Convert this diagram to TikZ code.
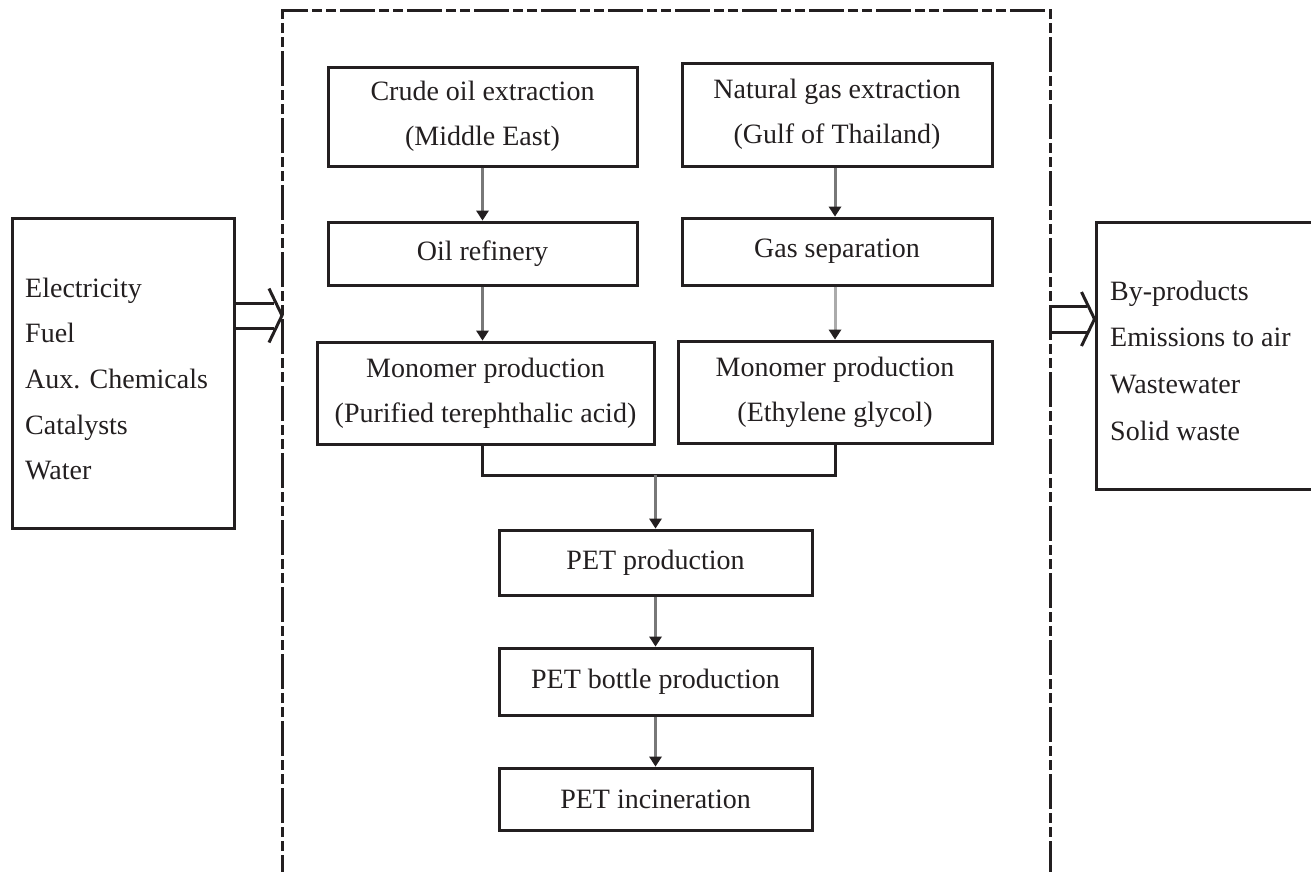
\documentclass[tikz,border=0pt]{standalone}
\usepackage{fontspec}
\setmainfont{Liberation Serif}
\usetikzlibrary{arrows.meta,calc}
\definecolor{ink}{HTML}{231F20}
\definecolor{flowgray}{HTML}{787878}
\definecolor{paleflow}{HTML}{ABABAB}
\begin{document}
\begin{tikzpicture}[x=1pt,y=-1pt,
  every node/.style={font=\fontsize{28}{45}\selectfont, text=ink},
  stage/.style={draw=ink, line width=3pt, rectangle, align=center, inner sep=0pt},
  flow/.style={draw=flowgray, line width=3pt,
    -{Triangle[width=13pt,length=10pt,line width=0pt,fill=ink,color=ink]}},
  paleflowline/.style={flow, draw=paleflow},
  joinline/.style={draw=ink, line width=3pt},
  boundary/.style={draw=ink, line width=3pt,
    dash pattern=on 35pt off 4pt on 10pt off 4pt on 10pt off 4pt},
  hollow/.style={draw=ink, line width=3pt},
  item/.style={anchor=base west, inner sep=0pt}]
\clip (0,0) rectangle (1311,871);
\useasboundingbox (0,0) rectangle (1311,871);

% system boundary, open at the bottom
\draw[boundary] (282,890) -- (282,10) -- (1050,10) -- (1050,890);

% process chain
\node[stage, minimum width=309pt, minimum height=99pt]  (crude)  at (482.5,116.5) {Crude oil extraction\\(Middle East)};
\node[stage, minimum width=310pt, minimum height=103pt] (natgas) at (837,114.5)   {Natural gas extraction\\(Gulf of Thailand)};
\node[stage, minimum width=309pt, minimum height=63pt]  (oilref) at (482.5,253.5) {Oil refinery};
\node[stage, minimum width=310pt, minimum height=67pt]  (gassep) at (837,251.5)   {Gas separation};
\node[stage, minimum width=337pt, minimum height=102pt] (pta)    at (485.5,393)   {Monomer production\\(Purified terephthalic acid)};
\node[stage, minimum width=314pt, minimum height=102pt] (eg)     at (835,392)     {Monomer production\\(Ethylene glycol)};
\node[stage, minimum width=313pt, minimum height=65pt]  (pet)    at (655.5,562.5) {PET production};
\node[stage, minimum width=313pt, minimum height=67pt]  (bottle) at (655.5,681.5) {PET bottle production};
\node[stage, minimum width=313pt, minimum height=62pt]  (incin)  at (655.5,799)   {PET incineration};

% inputs and outputs
\node[stage, minimum width=222pt, minimum height=310pt] (inputs)  at (123,373) {};
\node[stage, minimum width=224pt, minimum height=267pt] (outputs) at (1208,355.5) {};
\foreach \txt [count=\i] in {Electricity, Fuel, Aux. Chemicals, Catalysts, Water}
  \node[item] (in\i) at (25,{297+45.7*(\i-1)}) {\txt};
\foreach \txt [count=\i] in {By-products, Emissions to air, Wastewater, Solid waste}
  \node[item] (out\i) at (1110,{300+46.7*(\i-1)}) {\txt};

% flows
\coordinate (mergeY) at (0,475);
\draw[flow] (crude.south) -- (oilref.north);
\draw[flow] (oilref.south) -- (oilref.south |- pta.north);
\draw[flow] (natgas.south -| eg.north) -- (gassep.north -| eg.north);
\draw[paleflowline] (gassep.south -| eg.north) -- (eg.north);
\draw[joinline] (pta.south -| oilref.south) -- (oilref.south |- mergeY)
  -- (eg.south |- mergeY) -- (eg.south);
\draw[flow] (pet.north |- mergeY) -- (pet.north);
\draw[flow] (pet.south) -- (bottle.north);
\draw[flow] (bottle.south) -- (incin.north);

% open block arrows across the boundary
\coordinate (inUp) at (0,303);
\coordinate (inDn) at (0,328);
\coordinate (inTip) at (282,315.5);
\draw[hollow] (inputs.east |- inUp) -- ($(inTip |- inUp)+(-8,0)$);
\draw[hollow] (inputs.east |- inDn) -- ($(inTip |- inDn)+(-8,0)$);
\draw[hollow, line join=miter] ($(inTip)+(-13,-27)$) -- (inTip) -- ($(inTip)+(-13,27)$);

\coordinate (outUp) at (0,306);
\coordinate (outDn) at (0,332);
\coordinate (outTip) at ($(outputs.west |- outUp)!0.5!(outputs.west |- outDn)$);
\draw[hollow] (1050,306) -- ($(outTip |- outUp)+(-8,0)$);
\draw[hollow] (1050,332) -- ($(outTip |- outDn)+(-8,0)$);
\draw[hollow, line join=miter] ($(outTip)+(-13,-27)$) -- (outTip) -- ($(outTip)+(-13,27)$);
\end{tikzpicture}
\end{document}
